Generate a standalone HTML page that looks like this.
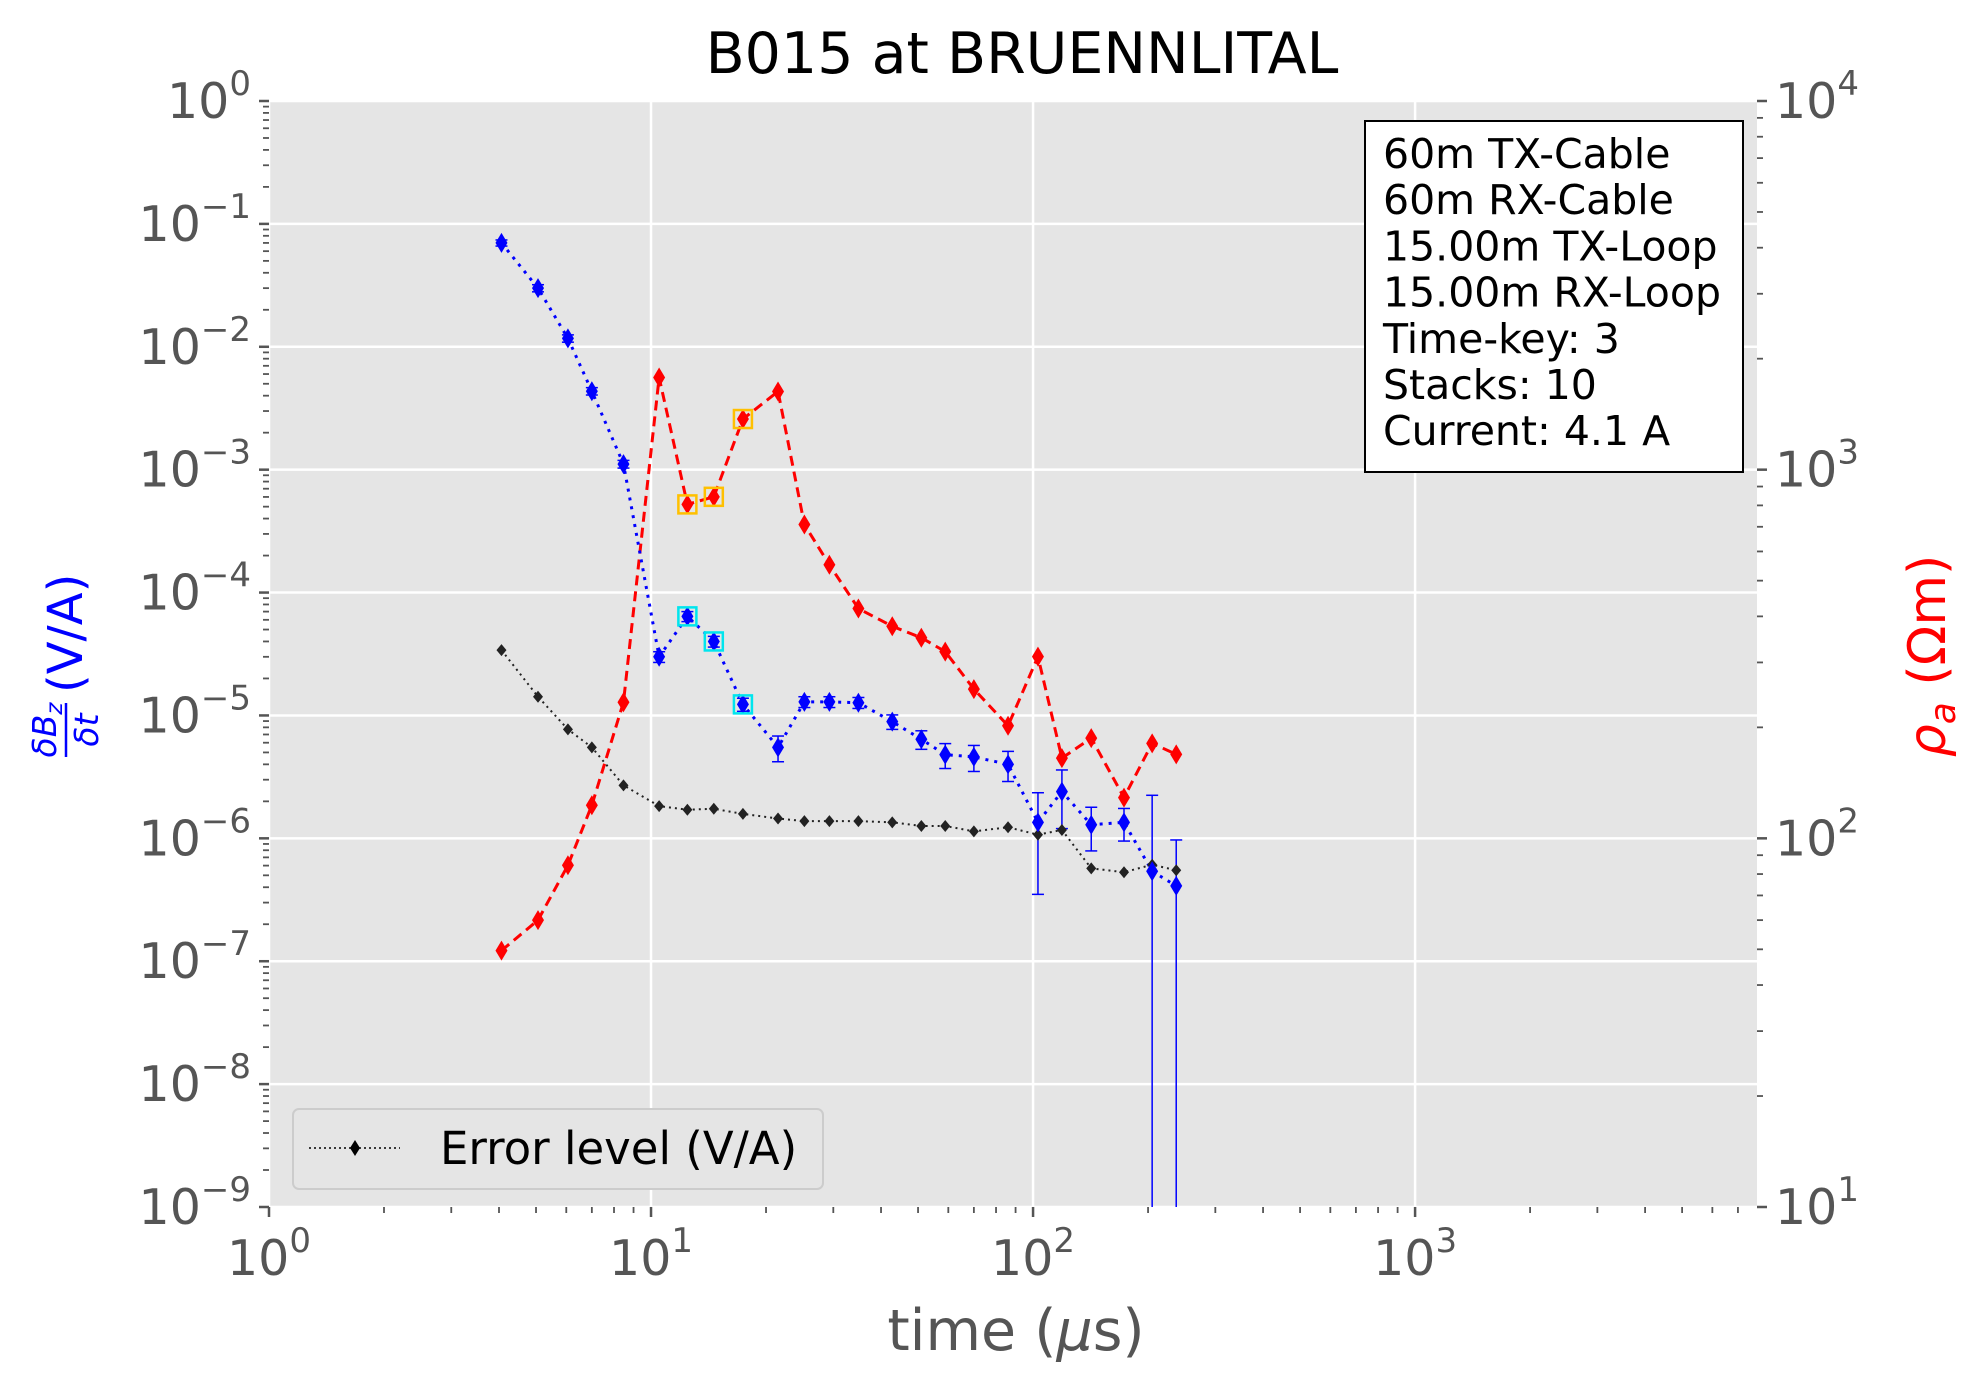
<!DOCTYPE html>
<html><head><meta charset="utf-8"><style>
html,body{margin:0;padding:0;background:#fff;}
svg{display:block;font-family:"DejaVu Sans","Liberation Sans",sans-serif;}
</style></head><body>
<svg id="chart" width="1970" height="1395" viewBox="0 0 1970 1395" xmlns="http://www.w3.org/2000/svg">
<text x="1022" y="73" font-size="57" text-anchor="middle" fill="#000">B015 at BRUENNLITAL</text>
<rect x="269" y="101" width="1488" height="1106" fill="#e5e5e5"/>
<g id="grid"></g>
<g id="series"></g>
<g id="axes"></g>
<text x="1016" y="1350" font-size="57" text-anchor="middle" fill="#555">time (<tspan font-style="italic">μ</tspan>s)</text>
<g transform="translate(68,655) rotate(-90)" fill="#0000ff">
<text x="-75" y="-12" font-size="33" font-style="italic" text-anchor="middle">δB<tspan font-size="23" dy="6">z</tspan></text>
<line x1="-102" y1="-2" x2="-48" y2="-2" stroke="#0000ff" stroke-width="2.5"/>
<text x="-75" y="30" font-size="33" font-style="italic" text-anchor="middle">δt</text>
<text x="-38" y="14" font-size="48" text-anchor="start">(V/A)</text>
</g>
<text transform="translate(1945,656) rotate(-90)" font-size="52" text-anchor="middle" fill="#ff0000"><tspan font-style="italic">ρ</tspan><tspan font-style="italic" font-size="36" dy="10">a</tspan><tspan dy="-10"> (Ωm)</tspan></text>
<g>
<rect x="1365" y="121" width="378" height="351" fill="#fff" stroke="#000" stroke-width="2"/>
<text x="1383" y="168" font-size="41" fill="#000">
<tspan x="1383" dy="0">60m TX-Cable</tspan>
<tspan x="1383" dy="46.2">60m RX-Cable</tspan>
<tspan x="1383" dy="46.2">15.00m TX-Loop</tspan>
<tspan x="1383" dy="46.2">15.00m RX-Loop</tspan>
<tspan x="1383" dy="46.2">Time-key: 3</tspan>
<tspan x="1383" dy="46.2">Stacks: 10</tspan>
<tspan x="1383" dy="46.2">Current: 4.1 A</tspan>
</text>
</g>
<g>
<rect x="293" y="1109" width="530" height="80" rx="6" fill="#e5e5e5" stroke="#cccccc" stroke-width="2"/>
<line x1="309" y1="1148" x2="400" y2="1148" stroke="#000" stroke-width="1.5" stroke-dasharray="2,3"/>
<path d="M355,1140 L360,1148 L355,1156 L350,1148 Z" fill="#000"/>
<text x="440" y="1164" font-size="45" fill="#000">Error level (V/A)</text>
</g>
</svg>
<script>
const times = [4.06,5.06,6.06,7.0,8.47,10.5,12.45,14.6,17.4,21.5,25.2,29.3,34.9,42.8,51,58.9,70,86,103,119,142,173,205,237];
const dbdt = [0.07,0.03,0.0117,0.00435,0.00111,3.0e-5,6.4e-5,4.0e-5,1.23e-5,5.5e-6,1.29e-5,1.29e-5,1.27e-5,8.9e-6,6.4e-6,4.8e-6,4.6e-6,4.0e-6,1.35e-6,2.4e-6,1.29e-6,1.35e-6,5.4e-7,4.1e-7];
const dbdtErr = [0.004,0.002,0.0008,0.0003,0.00008,3e-6,6e-6,4e-6,1.5e-6,1.3e-6,1.3e-6,1.3e-6,1.3e-6,1.2e-6,1.1e-6,1.1e-6,1.1e-6,1.1e-6,1.0e-6,1.2e-6,0.5e-6,0.4e-6,1.7e-6,5.6e-7];
const errLevel = [3.4e-5,1.42e-5,7.7e-6,5.5e-6,2.7e-6,1.83e-6,1.71e-6,1.74e-6,1.58e-6,1.45e-6,1.38e-6,1.38e-6,1.38e-6,1.35e-6,1.26e-6,1.26e-6,1.14e-6,1.23e-6,1.07e-6,1.17e-6,5.7e-7,5.3e-7,6.1e-7,5.5e-7];
const rhoA = [49.6,60,84.5,123,234,1778,805,844,1372,1630,710,552,420,376,350,321,254,202,311,165,187,129,181,169];
const flagged = [6,7,8];
const xTicks = ["10^0","10^1","10^2","10^3"];
const yLeftTicks = [0,-1,-2,-3,-4,-5,-6,-7,-8,-9];
const yRightTicks = [1,2,3,4];

const L=269,R=1757,T=101,B=1207;
const xMinL=0, xMaxL=3.895;
function xs(v){return L+(Math.log10(v)-xMinL)/(xMaxL-xMinL)*(R-L);}
function yl(v){return T+(0-Math.log10(v))/9*(B-T);}
function yr(v){return T+(4-Math.log10(v))/3*(B-T);}
const NS="http://www.w3.org/2000/svg";
function mk(tag,attrs,parent){const e=document.createElementNS(NS,tag);for(const k in attrs)e.setAttribute(k,attrs[k]);parent.appendChild(e);return e;}
const grid=document.getElementById('grid'),ser=document.getElementById('series'),ax=document.getElementById('axes');

for(let d=0;d<=3;d++){const x=xs(Math.pow(10,d));
 const g=mk('line',{x1:x,x2:x,y1:T,y2:B,stroke:'#fff','stroke-width':2.5},grid);
 
 }
yLeftTicks.forEach(p=>{const y=yl(Math.pow(10,p));
 const g=mk('line',{x1:L,x2:R,y1:y,y2:y,stroke:'#fff','stroke-width':2.5},grid);
 
 });

for(let d=0;d<=3;d++){
 const x=xs(Math.pow(10,d));
 const t=mk('line',{x1:x,x2:x,y1:B,y2:B+10,stroke:'#555','stroke-width':2.5},ax);
 
 
 const lab=mk('text',{x:x,y:B+68,'font-size':49,'text-anchor':'middle',fill:'#555'},ax);
 
 
 lab.textContent='10';
 const s=mk('tspan',{dy:-23,'font-size':34},lab); s.textContent=xTicks[d].split('^')[1];
 for(let m=2;m<=9;m++){const v=m*Math.pow(10,d); if(Math.log10(v)>xMaxL)break;
  const xm=xs(v); const mt=mk('line',{x1:xm,x2:xm,y1:B,y2:B+6,stroke:'#555','stroke-width':1.8},ax);
  
  }
}
yLeftTicks.forEach(p=>{
 const y=yl(Math.pow(10,p));
 const t=mk('line',{x1:L-10,x2:L,y1:y,y2:y,stroke:'#555','stroke-width':2.5},ax);
 
 
 const lab=mk('text',{x:L-18,y:y+17,'font-size':49,'text-anchor':'end',fill:'#555'},ax);
 
 
 lab.textContent='10';
 const s=mk('tspan',{dy:-23,'font-size':34},lab); s.textContent=(p<0?'−'+(-p):''+p);
 if(p>-9){for(let m=2;m<=9;m++){const ym=yl(m*Math.pow(10,p-1));
  const mt=mk('line',{x1:L-6,x2:L,y1:ym,y2:ym,stroke:'#555','stroke-width':1.8},ax);
  
  }}
});
yRightTicks.forEach(p=>{
 const y=yr(Math.pow(10,p));
 const t=mk('line',{x1:R,x2:R+10,y1:y,y2:y,stroke:'#555','stroke-width':2.5},ax);
 
 
 const lab=mk('text',{x:R+18,y:y+17,'font-size':49,'text-anchor':'start',fill:'#555'},ax);
 
 
 lab.textContent='10';
 const s=mk('tspan',{dy:-23,'font-size':34},lab); s.textContent=''+p;
 if(p<4){for(let m=2;m<=9;m++){const ym=yr(m*Math.pow(10,p));
  const mt=mk('line',{x1:R,x2:R+6,y1:ym,y2:ym,stroke:'#555','stroke-width':1.8},ax);
  
  }}
});

function diamond(cx,cy,w,h,fill,name){
 const p=mk('path',{d:`M${cx},${cy-h} L${cx+w},${cy} L${cx},${cy+h} L${cx-w},${cy} Z`,fill:fill},ser);
 
 
}
function poly(xsArr,ysArr,stroke,dash,width,name){
 const pts=xsArr.map((x,i)=>x+','+ysArr[i]).join(' ');
 const p=mk('polyline',{points:pts,fill:'none',stroke:stroke,'stroke-width':width,'stroke-dasharray':dash},ser);
 
 
}
poly(times.map(xs),errLevel.map(yl),'#222','2,4',2,'error-level-line');
poly(times.map(xs),rhoA.map(yr),'#ff0000','10,6',3,'rho-a-line');
poly(times.map(xs),dbdt.map(yl),'#0000ff','3,6',3,'dbdt-line');
times.forEach((t,i)=>{
 const x=xs(t); const v=dbdt[i], e=dbdtErr[i];
 const top=yl(v+e); const bot=(v-e)>0?Math.min(yl(v-e),B):B;
 const b=mk('line',{x1:x,x2:x,y1:top,y2:bot,stroke:'#0000ff','stroke-width':1.5},ser);
 
 
 [top].concat((v-e)>0?[bot]:[]).forEach(yy=>{
  const c=mk('line',{x1:x-6,x2:x+6,y1:yy,y2:yy,stroke:'#0000ff','stroke-width':1.5},ser);
  
  
 });
});
times.forEach((t,i)=>diamond(xs(t),yl(errLevel[i]),5,6,'#222','error-level-point'));
times.forEach((t,i)=>diamond(xs(t),yr(rhoA[i]),6,10,'#ff0000','rho-a-point'));
times.forEach((t,i)=>diamond(xs(t),yl(dbdt[i]),6,10,'#0000ff','dbdt-point'));
flagged.forEach(i=>{
 const x=xs(times[i]);
 const a=mk('rect',{x:x-9,y:yr(rhoA[i])-9,width:18,height:18,fill:'none',stroke:'#ffc000','stroke-width':2.5},ser);
 
 
 const b=mk('rect',{x:x-9,y:yl(dbdt[i])-9,width:18,height:18,fill:'none',stroke:'#00e5ee','stroke-width':2.5},ser);
 
 
});
</script>
</body></html>
